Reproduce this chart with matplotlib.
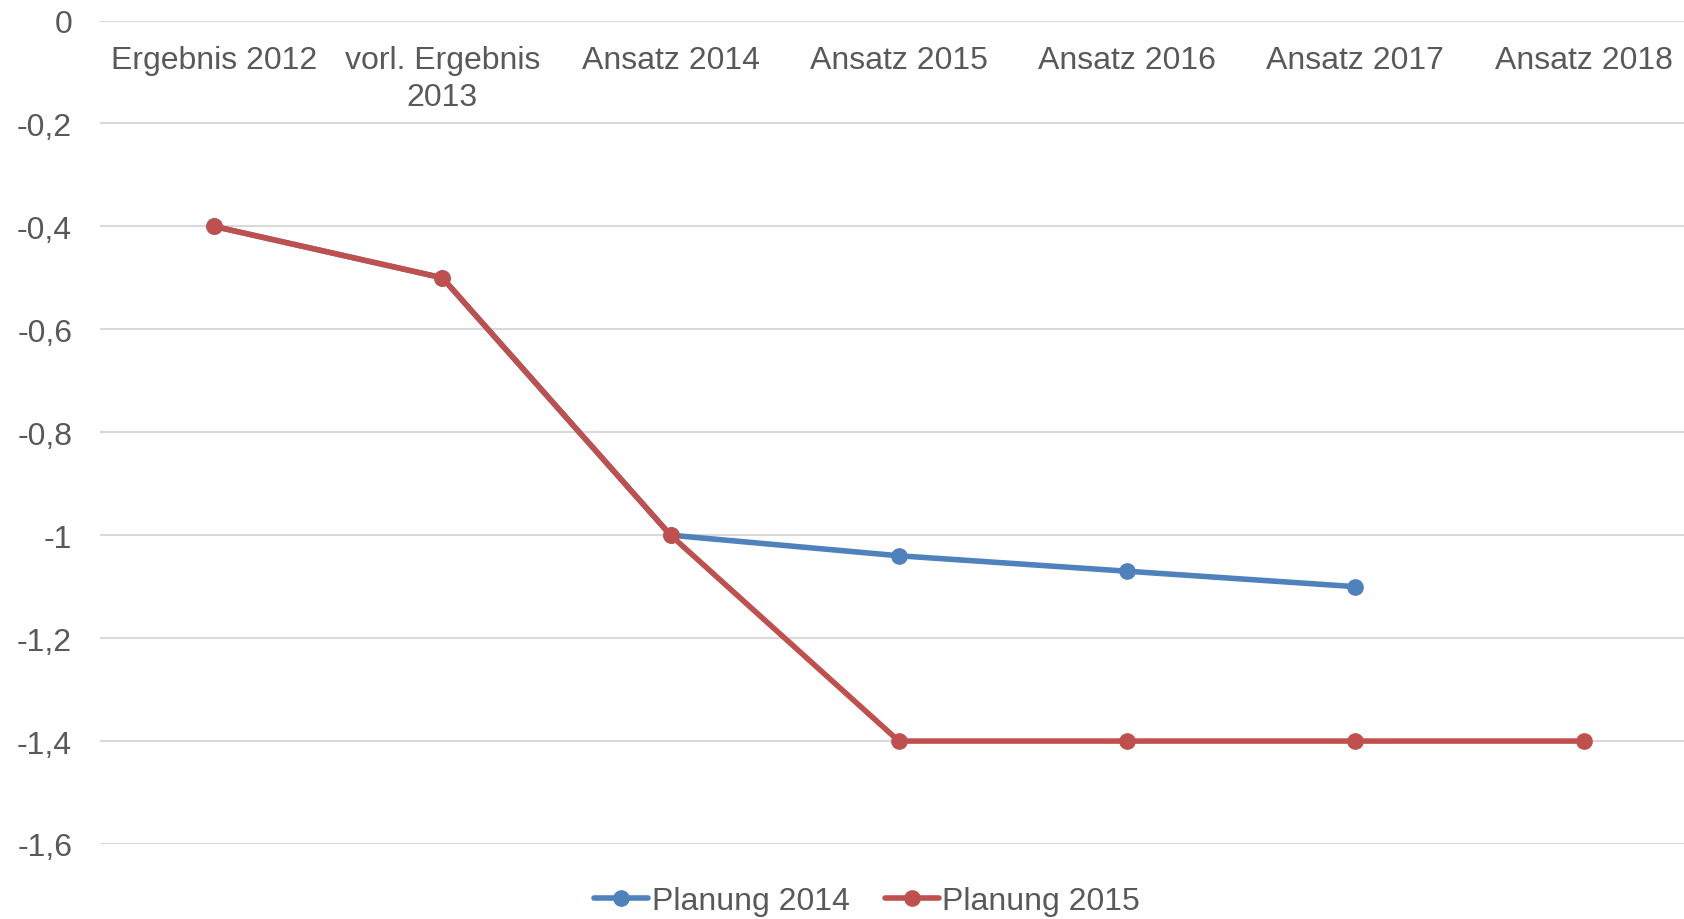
import matplotlib.pyplot as plt
import matplotlib.transforms as mtransforms

categories = ["Ergebnis 2012", "vorl. Ergebnis\n2013", "Ansatz 2014", "Ansatz 2015",
              "Ansatz 2016", "Ansatz 2017", "Ansatz 2018"]
planung_2014 = [-0.4, -0.5, -1.0, -1.04, -1.07, -1.1]
planung_2015 = [-0.4, -0.5, -1.0, -1.4, -1.4, -1.4, -1.4]
yticks = [0, -0.2, -0.4, -0.6, -0.8, -1.0, -1.2, -1.4, -1.6]
ytick_labels = ["0", "-0,2", "-0,4", "-0,6", "-0,8", "-1", "-1,2", "-1,4", "-1,6"]

BLUE = "#4F81BD"
RED = "#C0504D"
TEXT = "#595959"
GRID = "#D9D9D9"
FS = 23

plt.rcParams["font.family"] = ["Liberation Sans", "DejaVu Sans"]

fig = plt.figure(figsize=(16.84, 9.2), dpi=100)
ax = fig.add_axes([100 / 1684, 75 / 920, 1584 / 1684, 823.5 / 920])

x14 = list(range(len(planung_2014)))
x15 = list(range(len(planung_2015)))
ax.plot(x14, planung_2014, color=BLUE, lw=4, marker="o", ms=11,
        solid_capstyle="round", label="Planung 2014", zorder=3)
ax.plot(x15, planung_2015, color=RED, lw=4, marker="o", ms=11,
        solid_capstyle="round", label="Planung 2015", zorder=4)

ax.set_xlim(-0.5, 6.44)
ax.set_ylim(-1.6, 0)
ax.set_yticks(yticks)
ax.set_yticklabels(ytick_labels)
ax.set_xticks([])
ax.tick_params(axis="y", length=0, pad=20, labelsize=FS, labelcolor=TEXT)
ax.grid(axis="y", color=GRID, lw=1.5)
ax.set_axisbelow(True)
for s in ax.spines.values():
    s.set_visible(False)

# category labels sit just below the zero line, like Excel does it
trans = mtransforms.blended_transform_factory(ax.transData, ax.transAxes)
for i, c in enumerate(categories):
    ax.text(i, 0.97, c, transform=trans, ha="center", va="top",
            fontsize=FS, color=TEXT, linespacing=1.3)

fig.legend(loc="center", bbox_to_anchor=(867 / 1684, 1 - 902 / 920), ncol=2,
           frameon=False, fontsize=FS, labelcolor=TEXT, handlelength=1.7,
           handletextpad=0.1, columnspacing=1.1)

fig.savefig("out.png", dpi=100)
